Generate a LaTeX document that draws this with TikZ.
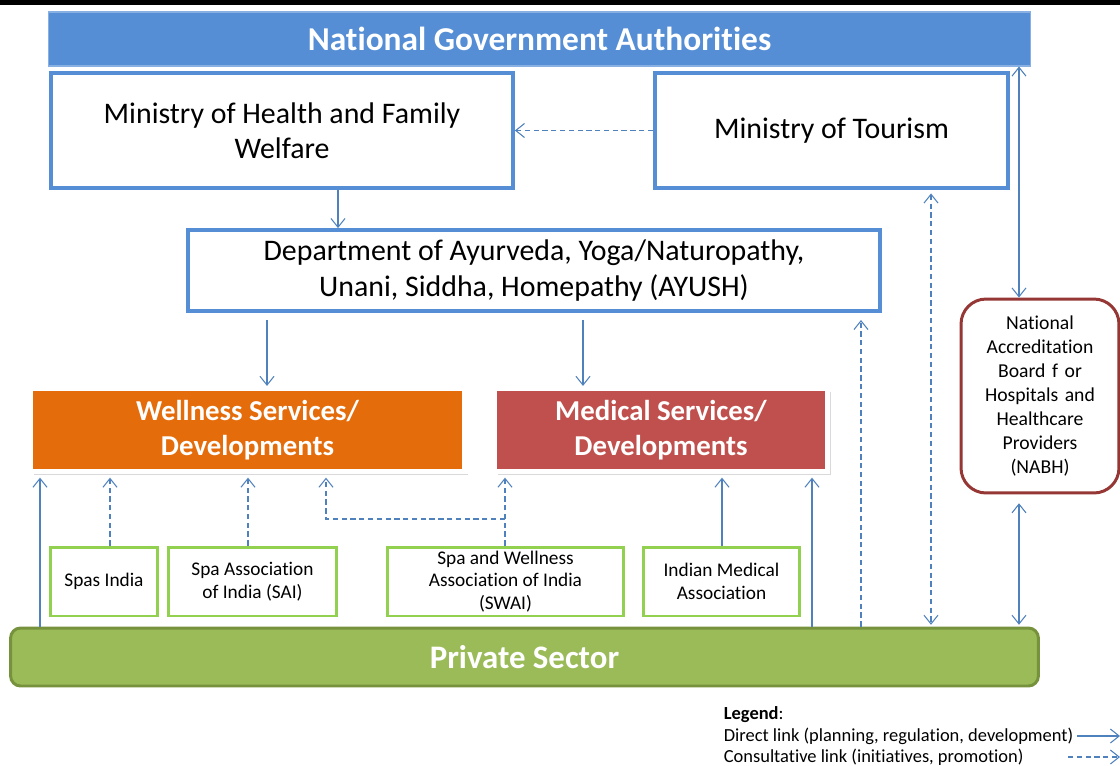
\documentclass[tikz,border=0pt]{standalone}
\usepackage{fontspec}
\setmainfont{Carlito}[Ligatures=NoCommon]
\usepackage{xcolor}
\usepackage{tikz}
\usetikzlibrary{shadows, shapes, arrows.meta, positioning}

\definecolor{ngablue}{RGB}{85,142,213}
\definecolor{linkblue}{RGB}{79,129,189}
\definecolor{wellorange}{RGB}{228,108,10}
\definecolor{medred}{RGB}{192,80,77}
\definecolor{assocgreen}{RGB}{146,208,80}
\definecolor{nabhred}{RGB}{149,55,53}
\definecolor{privgreen}{RGB}{155,187,89}
\definecolor{privedge}{RGB}{118,146,60}

\begin{document}
\begin{tikzpicture}[x=0.02cm,y=-0.02cm,
    >={Straight Barb[length=5pt,width=8pt]},
    ministry/.style={draw=ngablue,line width=2.2pt,fill=white,align=center,
      font=\fontsize{17}{20}\selectfont,minimum height=2.3cm},
    service/.style={draw=white,line width=3pt,text=white,align=center,
      font=\fontsize{16.4}{20}\selectfont\bfseries,minimum height=1.66cm,
      drop shadow={opacity=0.3,shadow xshift=2pt,shadow yshift=-2pt}},
    assoc/.style={draw=assocgreen,line width=1.7pt,fill=white,align=center,
      font=\fontsize{11}{13}\selectfont,minimum height=1.38cm,inner sep=1pt},
    direct/.style={draw=linkblue,line width=0.6pt,->},
    consult/.style={direct,dash pattern=on 3pt off 2pt},
    legendtext/.style={anchor=west,inner sep=2pt,font=\fontsize{10.5}{12}\selectfont}]
  \useasboundingbox (0,0) rectangle (1120,765);
  \fill[black] (0,0) rectangle (1120,5);

  % government level
  \node[fill=ngablue,draw=ngablue!70!white,line width=0.6pt,text=white,
    font=\fontsize{19}{22}\selectfont\bfseries,minimum width=19.66cm,minimum height=1.08cm]
    (nga) at (539.5,39) {National Government Authorities};
  \node[ministry,minimum width=9.24cm] (mohfw) at (282,130.5) {Ministry of Health and Family\\Welfare};
  \node[ministry,minimum width=7.06cm] (tourism) at (831.5,130.5) {Ministry of Tourism};
  \node[ministry,minimum width=13.84cm,minimum height=1.62cm] (ayush) at (534,270.5)
    {Department of Ayurveda, Yoga/Naturopathy,\\Unani, Siddha, Homepathy (AYUSH)};
  \node[draw=nabhred,line width=1.7pt,fill=white,rounded corners=0.5cm,align=center,
    text width=2.9cm,font=\fontsize{11.2}{13.6}\selectfont,minimum width=3.16cm,minimum height=3.88cm]
    (nabh) at (1040,396) {National\\Accreditation\\Board f or\\Hospitals and\\Healthcare\\Providers\\(NABH)};

  % services
  \node[service,fill=wellorange,minimum width=8.7cm] (well) at (247.5,430) {Wellness Services/\\Developments};
  \node[service,fill=medred,minimum width=6.66cm] (med) at (661,430) {Medical Services/\\Developments};

  % associations
  \node[assoc,minimum width=2.14cm] (spas) at (104,581.5) {Spas India};
  \node[assoc,minimum width=3.36cm] (sai) at (252.5,581.5) {Spa Association\\of India (SAI)};
  \node[assoc,minimum width=4.72cm] (swai) at (505.5,581.5) {Spa and Wellness\\Association of India\\(SWAI)};
  \node[assoc,minimum width=3.12cm] (ima) at (721.5,581.5) {Indian Medical\\Association};

  \node[fill=privgreen,draw=privedge,line width=1.7pt,rounded corners=0.2cm,text=white,
    font=\fontsize{18.7}{22}\selectfont\bfseries,minimum width=20.56cm,minimum height=1.16cm]
    (priv) at (524.5,657) {Private Sector};

  % links between the levels
  \draw[direct] (338,0 |- mohfw.south) -- (338,0 |- ayush.north);
  \draw[consult] (tourism.west) -- (tourism.west -| mohfw.east);
  \draw[direct,<->] (1019,0 |- nga.south) -- (1019,0 |- nabh.north);
  \draw[direct,shorten <=4pt] (267,0 |- ayush.south) -- (267,0 |- well.north);
  \draw[direct,shorten <=4pt] (583,0 |- ayush.south) -- (583,0 |- med.north);

  \draw[consult,shorten >=2pt] (110,0 |- spas.north) -- (110,0 |- well.south);
  \draw[consult,shorten >=2pt] (248,0 |- sai.north) -- (248,0 |- well.south);
  \draw[consult,shorten >=2pt] (505,0 |- swai.north) -- (505,0 |- med.south);
  \coordinate (swaisplit) at (505,519);
  \draw[consult,shorten >=2pt] (swaisplit) -| (326,0 |- well.south);
  \draw[direct,shorten >=2pt] (722,0 |- ima.north) -- (722,0 |- med.south);

  \draw[direct,shorten >=2pt] (40,0 |- priv.north) -- (40,0 |- well.south);
  \draw[direct,shorten >=2pt] (812,0 |- priv.north) -- (812,0 |- med.south);
  \draw[consult,shorten >=4pt] (861,0 |- priv.north) -- (861,0 |- ayush.south);
  \draw[consult,<->,shorten <=2pt,shorten >=1pt] (931,0 |- tourism.south) -- (931,0 |- priv.north);
  \draw[direct,<->,shorten <=5pt,shorten >=1pt] (1019,0 |- nabh.south) -- (1019,0 |- priv.north);

  % legend
  \node[legendtext] (legtitle) at (720,715) {\textbf{Legend}:};
  \node[legendtext] (ldirect) at (720,736) {Direct link (planning, regulation, development)};
  \node[legendtext] (lconsult) at (720,757) {Consultative link (initiatives, promotion)};
  \coordinate (directend) at (1120,736);
  \coordinate (consultstart) at (1068,757);
  \coordinate (consultend) at (1120,757);
  \draw[direct] (ldirect.east) -- (directend);
  \draw[consult] (consultstart) -- (consultend);
\end{tikzpicture}
\end{document}
